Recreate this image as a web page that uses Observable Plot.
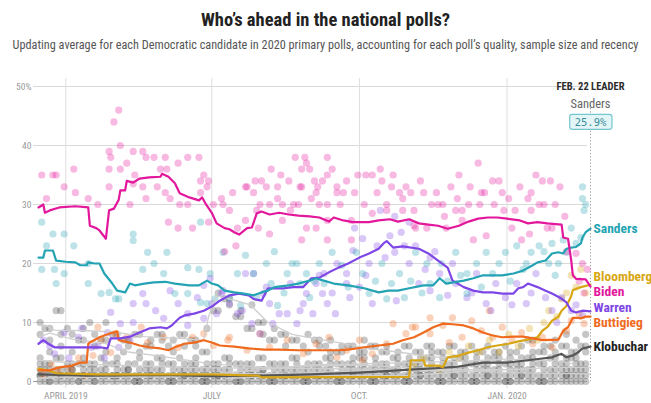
<!DOCTYPE html>
<html><head><meta charset="utf-8">
<script src="https://cdn.jsdelivr.net/npm/d3@7"></script>
<script src="https://cdn.jsdelivr.net/npm/@observablehq/plot@0.6"></script>
<style>
body{margin:0;background:#fff;width:651px;height:403px;overflow:hidden;position:relative;}
#title{position:absolute;top:9px;left:0;width:651px;text-align:center;font-weight:bold;font-size:18.5px;color:#222;white-space:nowrap;}
#sub{position:absolute;top:38px;left:0;width:651px;text-align:center;font-size:13px;color:#555;white-space:nowrap;}
#chart{position:absolute;top:60px;left:0;}
#chart g[aria-label="y-axis tick label"] text,#chart g[aria-label="x-axis tick label"] text{fill:#9a9a9a;}
</style></head><body>
<div id="title">Who’s ahead in the national polls?</div>
<div id="sub">Updating average for each Democratic candidate in 2020 primary polls, accounting for each poll’s quality, sample size and recency</div>
<div id="chart"></div>
<script>
// ---------- data ----------
const candidates = ["Klobuchar","Bloomberg","Buttigieg","Warren","Sanders","Biden"];
const candidateColors = ["#555555","#d8a614","#ef6a1d","#7f46e6","#23a3b3","#e3179c"];
const labelColors = ["#222222","#d8a614","#ef6a1d","#7f46e6","#23a3b3","#e3179c"];

const yTicks = [0,10,20,30,40,50];
const xTickDates = ["2019-04-01","2019-07-01","2019-10-01","2020-01-01"];
const xTickLabels = ["APRIL 2019","JULY","OCT.","JAN. 2020"];
const startDate = "2019-03-15";
const endDate = "2020-02-22";
const leaderTitle = "FEB. 22 LEADER";
const pollOrigin = "2019-04-01"; // poll dots: [days since origin, value]

const bidenAvg = [["2019-03-15",29.5],["2019-03-18",30],["2019-03-19",28.6],["2019-03-22",29],["2019-03-28",29.5],["2019-04-07",29.7],["2019-04-15",29.5],["2019-04-16",26.4],["2019-04-20",26],["2019-04-22",25.6],["2019-04-26",24.2],["2019-04-28",29],["2019-05-01",29.3],["2019-05-04",30.8],["2019-05-05",32.4],["2019-05-08",32.4],["2019-05-09",34],["2019-05-13",33.7],["2019-05-17",34.4],["2019-05-23",34.6],["2019-05-30",34.7],["2019-05-31",35.2],["2019-06-04",34.7],["2019-06-08",33.6],["2019-06-11",31.9],["2019-06-17",31.2],["2019-06-23",30.7],["2019-06-25",31.2],["2019-06-27",30.2],["2019-07-01",28.6],["2019-07-04",26.8],["2019-07-09",26],["2019-07-12",25.8],["2019-07-15",25.3],["2019-07-18",24.9],["2019-07-23",26],["2019-07-26",26.1],["2019-07-29",28.5],["2019-08-01",28.8],["2019-08-06",28.3],["2019-08-12",28.6],["2019-08-18",28.3],["2019-08-24",28.1],["2019-08-31",28],["2019-09-06",27.8],["2019-09-12",27.1],["2019-09-15",27.8],["2019-09-21",27.3],["2019-09-27",27],["2019-10-07",27],["2019-10-13",27.3],["2019-10-20",27.5],["2019-10-25",27.1],["2019-11-01",27.5],["2019-11-07",26.8],["2019-11-13",26.6],["2019-11-19",26.4],["2019-11-25",25.9],["2019-12-02",26.4],["2019-12-08",27.1],["2019-12-14",27.6],["2019-12-20",27.8],["2019-12-26",27.8],["2020-01-01",27.6],["2020-01-09",27.3],["2020-01-14",26.8],["2020-01-20",27],["2020-01-26",26.8],["2020-02-04",26.6],["2020-02-05",24.4],["2020-02-08",24.2],["2020-02-10",20.5],["2020-02-11",18],["2020-02-13",17.4],["2020-02-19",17.3],["2020-02-22",16.1]];
const sandersAvg = [["2019-03-15",21],["2019-03-18",21],["2019-03-19",22.2],["2019-03-24",22.2],["2019-03-26",20.5],["2019-04-01",20.3],["2019-04-07",20.2],["2019-04-10",19.7],["2019-04-14",19.7],["2019-04-15",20.2],["2019-04-19",20],["2019-04-22",20],["2019-04-25",18.3],["2019-04-30",16.6],["2019-05-03",15.4],["2019-05-08",15.1],["2019-05-11",16.6],["2019-05-14",16.3],["2019-05-20",16.6],["2019-05-26",16.8],["2019-06-02",16.9],["2019-06-08",16.6],["2019-06-17",16.3],["2019-06-23",16.3],["2019-06-28",17.1],["2019-07-01",16.6],["2019-07-05",16.3],["2019-07-09",15.4],["2019-07-15",15.1],["2019-07-21",14.9],["2019-07-27",14.6],["2019-08-01",15.1],["2019-08-05",15.4],["2019-08-09",16],["2019-08-18",16.3],["2019-08-24",16.6],["2019-08-31",17.1],["2019-09-04",17.5],["2019-09-06",17.3],["2019-09-15",16.6],["2019-09-24",16.3],["2019-10-04",15.8],["2019-10-13",15.1],["2019-10-19",15.4],["2019-10-25",15.4],["2019-11-01",15.8],["2019-11-10",16.3],["2019-11-16",16.3],["2019-11-20",17.5],["2019-11-24",16.6],["2019-12-05",17.1],["2019-12-11",17.5],["2019-12-17",18],["2019-12-23",18],["2019-12-29",18],["2020-01-05",18.3],["2020-01-11",18.8],["2020-01-17",19.7],["2020-01-20",20.2],["2020-01-25",20.5],["2020-01-29",21.7],["2020-02-02",21.9],["2020-02-05",21.7],["2020-02-07",22.5],["2020-02-10",22.7],["2020-02-13",22.8],["2020-02-16",23.4],["2020-02-17",24.4],["2020-02-19",25.3],["2020-02-22",25.9]];
const warrenAvg = [["2019-03-15",6.4],["2019-03-18",7],["2019-03-21",6.4],["2019-03-25",5.8],["2019-04-10",5.8],["2019-04-22",5.8],["2019-04-27",5.6],["2019-04-29",7.3],["2019-05-05",7.3],["2019-05-11",7.6],["2019-05-17",8.3],["2019-05-23",9],["2019-05-30",9.2],["2019-06-03",9],["2019-06-06",9.5],["2019-06-11",10.8],["2019-06-14",11.2],["2019-06-20",11.5],["2019-06-26",12],["2019-07-01",12.7],["2019-07-06",13.7],["2019-07-12",14.6],["2019-07-18",14.9],["2019-07-24",14.6],["2019-07-27",14],["2019-08-01",13.7],["2019-08-05",15.8],["2019-08-09",15.8],["2019-08-15",15.8],["2019-08-21",16],["2019-08-27",16],["2019-09-01",17.5],["2019-09-06",17.6],["2019-09-12",18.5],["2019-09-18",19.3],["2019-09-24",20],["2019-10-01",21],["2019-10-07",21.7],["2019-10-13",22.5],["2019-10-16",23.4],["2019-10-18",23.8],["2019-10-22",22.7],["2019-10-28",22.9],["2019-11-07",22.5],["2019-11-13",21.7],["2019-11-19",20.5],["2019-11-25",19.3],["2019-11-28",17.1],["2019-12-05",16],["2019-12-11",15.4],["2019-12-17",15.1],["2019-12-23",15.1],["2019-12-29",14.9],["2020-01-05",14.9],["2020-01-08",15.8],["2020-01-11",16],["2020-01-14",16.6],["2020-01-20",16],["2020-01-25",15.4],["2020-01-29",14.9],["2020-02-03",14.2],["2020-02-07",13.4],["2020-02-10",12],["2020-02-13",11.7],["2020-02-17",12],["2020-02-22",11.9]];
const buttigiegAvg = [["2019-03-15",1.9],["2019-03-22",1.9],["2019-03-28",2.4],["2019-04-05",2.7],["2019-04-10",3.2],["2019-04-14",3.2],["2019-04-15",6.4],["2019-04-16",6.6],["2019-04-22",7.5],["2019-04-28",8.1],["2019-05-03",8.5],["2019-05-04",7],["2019-05-11",6.6],["2019-05-17",6.1],["2019-05-23",5.8],["2019-05-30",5.6],["2019-06-04",5.3],["2019-06-08",5.8],["2019-06-14",6.4],["2019-06-20",6.6],["2019-06-26",7],["2019-07-01",6.6],["2019-07-06",6.1],["2019-07-15",5.9],["2019-07-24",5.6],["2019-08-03",5.4],["2019-08-12",5.4],["2019-08-24",5.3],["2019-09-06",5.3],["2019-09-18",5.3],["2019-09-24",5.4],["2019-10-04",5.8],["2019-10-13",6.1],["2019-10-22",6.4],["2019-10-28",7],["2019-11-04",7.5],["2019-11-10",8.3],["2019-11-16",9.2],["2019-11-22",9.8],["2019-11-28",9.7],["2019-12-05",9.5],["2019-12-11",9],["2019-12-17",8.3],["2019-12-23",7.8],["2019-12-29",7.5],["2020-01-05",7.6],["2020-01-11",7.6],["2020-01-17",7.3],["2020-01-23",7],["2020-02-02",7.1],["2020-02-05",8.6],["2020-02-08",9.2],["2020-02-11",10.8],["2020-02-14",10.8],["2020-02-16",10.7],["2020-02-19",11],["2020-02-22",11]];
const bloombergAvg = [["2019-03-15",2.2],["2019-03-22",1.8],["2019-03-26",1.4],["2019-04-20",1.2],["2019-07-01",1.2],["2019-07-30",1.0],["2019-08-01",0.7],["2019-11-01",0.8],["2019-11-02",3.6],["2019-11-10",3.6],["2019-11-11",2.7],["2019-11-19",2.7],["2019-11-22",2.4],["2019-11-25",4.1],["2019-12-02",4.4],["2019-12-08",4.9],["2019-12-14",5.3],["2019-12-20",5.8],["2019-12-26",6.1],["2020-01-02",6.4],["2020-01-08",6.8],["2020-01-14",7.1],["2020-01-20",7.5],["2020-01-23",8.6],["2020-01-26",9.2],["2020-01-29",10.3],["2020-02-02",11],["2020-02-04",12],["2020-02-07",12.8],["2020-02-10",14.5],["2020-02-11",15.5],["2020-02-16",16],["2020-02-22",16.4]];
const klobucharAvg = [["2019-03-15",1.2],["2019-04-15",1.0],["2019-06-01",1.1],["2019-07-01",0.9],["2019-08-01",1.0],["2019-09-01",1.2],["2019-10-01",1.5],["2019-10-20",1.8],["2019-11-01",2.0],["2019-11-15",2.2],["2019-12-01",2.5],["2019-12-17",3.2],["2020-01-01",3.2],["2020-01-14",3.6],["2020-01-23",3.9],["2020-01-29",4.1],["2020-02-04",4.7],["2020-02-07",4.1],["2020-02-11",4.4],["2020-02-14",4.9],["2020-02-17",5.6],["2020-02-22",5.9]];

const harrisAvg = [["2019-03-15",9.5],["2019-03-20",9.4],["2019-03-25",8.7],["2019-04-15",8.6],["2019-05-01",8.4],["2019-05-20",7.6],["2019-06-10",7.3],["2019-06-26",7.0],["2019-06-29",11],["2019-07-04",14.5],["2019-07-15",13.8],["2019-07-25",13],["2019-08-05",10],["2019-08-20",8],["2019-09-05",7.2],["2019-09-20",6.5],["2019-10-05",5.6],["2019-10-25",5],["2019-11-15",4.2],["2019-12-03",3.8]];
const orourkeAvg = [["2019-03-15",7.5],["2019-03-22",8.2],["2019-04-05",7.2],["2019-04-25",6.5],["2019-05-10",5],["2019-06-01",4.2],["2019-07-01",3],["2019-08-01",2.4],["2019-09-01",2.6],["2019-10-01",2.8],["2019-11-01",2.3]];
const bookerAvg = [["2019-03-15",3.6],["2019-04-15",2.9],["2019-06-01",2.5],["2019-07-01",2.3],["2019-09-01",2.2],["2019-11-01",2],["2020-01-13",2]];
const yangAvg = [["2019-03-15",0.5],["2019-04-15",1],["2019-06-01",1],["2019-07-01",1.3],["2019-08-01",2],["2019-09-01",2.8],["2019-10-01",3],["2019-11-01",3.2],["2019-12-01",3.4],["2020-01-01",3.8],["2020-02-01",3.5],["2020-02-11",3]];
const steyerAvg = [["2019-07-10",0.5],["2019-08-01",0.8],["2019-09-01",1],["2019-11-01",1],["2019-12-01",1.6],["2020-01-01",2],["2020-02-01",2.4],["2020-02-22",2.4]];
const gabbardAvg = [["2019-03-15",0.6],["2019-06-01",0.8],["2019-07-01",1.2],["2019-09-01",1.5],["2019-10-20",2],["2019-12-01",1.8],["2020-01-01",1.5],["2020-02-22",1.3]];

const bidenPolls = [[-15,35],[-12,31],[-8,35],[-6,35],[-1,33],[5,36],[6,32],[14,31],[20,30],[27,33],[27,36],[27,39],[28,38],[30,44],[33,46],[34,40],[34,36],[38,37],[40,30],[42,39],[42,33.5],[43,35],[48,39],[48,33],[50,38],[50,31],[55,38],[57,33],[59,36],[62,38],[62,32],[63,36],[65,31],[64,27],[70,37],[70,26],[71,30],[76,38],[76,30],[79,26],[83,38],[84,34],[84,32],[86,35],[88,33],[89,34],[89,27],[92,30],[97,31],[98,30],[102,29],[107,26],[113,33],[117,32],[118,34],[122,34],[119,29],[125,33],[127,30],[132,31],[135,30],[140,29],[142,30],[146,33],[147,36],[149,38],[150,37],[152,36],[155,34],[156,32],[157,33],[158,30],[163,38],[163,35],[112,33],[132,33],[147,33],[169,33],[175,34],[182,35],[187,35],[191,35],[197,34],[203,33],[212,33],[215,32],[104,32],[121,30],[145,30],[153,31],[163,30],[169,32],[173,32],[180,32],[194,32],[200,30],[208,32],[112,27.3],[120,26],[127,25],[135,27.3],[150,26],[156,26],[163,27.3],[178,27.3],[191,28.5],[200,29],[210,29],[217,26.4],[99,22],[106,23],[147,24],[163,24],[178,24],[257,37],[266,34],[297,34],[302,34],[223,32],[231,32],[261,32],[272,32],[290,32],[232,30],[235,30],[243,29],[251,30],[258,30],[267,30],[295,30],[298,30],[305,30],[217,29],[247,29],[273,29],[280,29],[290,29],[247,27.3],[218,26],[225,26],[237,26],[278,26],[300,26],[303,26],[254,24],[262,24.7],[284,24],[289,25],[312,22],[318,21.7],[322,20],[320,17],[323,15],[325,19],[128,36],[134,35],[139,34],[143,38],[160,34],[166,36],[171,30],[186,30],[196,36],[204,35],[210,31],[221,34],[228,30],[240,33],[245,35],[252,33],[259,32],[270,34],[276,31],[283,33],[288,31],[293,35],[308,33],[311,28],[236,28],[244,31]];
const sandersPolls = [[-15,19],[-12,23],[-7,19],[-6,16.6],[-1,18.3],[5,23],[14,20],[14,16.6],[22,14.9],[27,15.1],[31,14],[33,14],[42,23.9],[48,19],[51,21.9],[55,20],[61,18.3],[63,21.9],[68,14.9],[76,19.3],[76,14.9],[83,19],[84,13.4],[88,13.2],[90,18.3],[93,14],[98,21.9],[102,14.2],[107,18.3],[109,12.9],[112,21.4],[117,18.3],[119,14.2],[125,20],[128,16.6],[132,12.9],[138,18.3],[141,20],[146,16.6],[150,18.3],[152,14.2],[158,20],[161,16.6],[-15,27],[-8,25],[-1,25],[42,25],[84,27],[166,21.9],[172,19.7],[181,21.9],[185,18.3],[197,20],[203,16.6],[208,18.3],[218,21.9],[225,20],[227,16.6],[234,20],[243,21.9],[250,18.3],[256,20],[262,21.9],[266,18.3],[270,20],[274,21.9],[281,23],[287,20],[290,21.9],[295,23],[301,20],[303,23.4],[307,20],[312,21.9],[318,23.4],[321,24.4],[322,33],[322,31],[323,29],[324,30],[250,14.9],[233,14.2],[211,14.2],[189,14.9],[130,22],[136,15],[144,20],[155,17],[176,16],[193,17],[200,14],[215,17],[222,15],[238,17],[246,18],[259,16],[277,17],[285,19],[298,22],[305,18],[315,26],[310,24]];
const warrenPolls = [[112,18.3],[117,18.3],[123,14.9],[127,13.2],[133,11.5],[138,11.5],[148,13.2],[150,14.9],[154,11.5],[160,14.9],[163,13.2],[168,11.5],[121,8.1],[116,9.8],[107,11.5],[102,13.2],[97,14.9],[140,16.6],[156,16.6],[175,18.3],[144,9.8],[129,9.8],[-14,7],[-10,6],[-7,4.7],[-1,8.3],[2,4],[8,7.5],[10,9],[16,5.8],[20,6],[24,4],[28,11.7],[34,9.8],[42,13.2],[42,10],[50,13.2],[48,14.9],[56,12],[61,10.7],[65,15.4],[70,13.2],[76,11.5],[82,14.2],[86,16.3],[90,17.5],[91,13.2],[94,11.5],[98,15.4],[86,10.7],[76,9.5],[40,7],[26,8.3],[33,5.8],[161,18.3],[169,20],[175,16.6],[179,22.2],[185,24.2],[189,20],[194,23],[202,24.7],[205,21.9],[209,25.3],[214,20],[218,23],[220,16.6],[227,21],[233,18.3],[238,14.6],[243,16.6],[250,14.2],[256,18.3],[262,13.2],[268,16.6],[274,14.2],[281,16.6],[287,13.2],[293,18.3],[299,14.2],[303,12],[309,14.2],[315,12],[322,11.2],[177,14.2],[191,13.2],[206,13.7],[183,16],[227,15.4],[196,29],[205,28],[214,27],[180,26],[187,18],[199,21],[211,23],[224,19],[230,22],[241,20],[253,15],[265,12],[278,13],[290,15],[306,10],[318,13],[110,12],[125,16],[146,12],[158,18],[166,15]];
const buttigiegPolls = [[-14,1],[-9,3],[-5,2],[3,2.2],[8,4],[12,1],[17,4.4],[20,9.2],[22,7],[28,4.9],[31,8.1],[38,7.5],[47,9.2],[51,6.6],[61,7.5],[70,5.8],[79,7.5],[86,8.1],[92,6.1],[101,7],[102,7.5],[113,5.3],[121,8.1],[127,5.8],[138,7],[148,4.7],[156,6.4],[164,7.5],[175,5.3],[183,7],[191,4.7],[200,6.4],[204,9.8],[212,8.1],[216,9.2],[169,4.1],[185,3.6],[218,9.2],[227,8.1],[235,9.5],[241,10.8],[247,7.5],[253,10.3],[259,8.6],[266,7.5],[272,9.2],[278,7],[284,8.3],[291,6.4],[297,7.5],[303,5.8],[312,8.6],[315,10.3],[320,11.5],[323,9.8],[239,6.6],[227,10.8],[264,12]];
const bloombergPolls = [[217,3],[223,4],[233,2],[239,5],[245,4],[251,6],[258,5],[264,7],[270,5],[276,8],[282,6],[289,9],[294,7],[298,10],[301,12],[306,11],[309,14],[312,15],[315,18],[318,16],[321,19],[324,15]];
const otherPolls = [[-16,[0,1,1,2,3,4,8,10]],[-13,[0,1,2,3,9]],[-10,[0,0,1,2,3,5,7,9]],[-6,[0,1,2,4,12]],[-3,[0,1,1,2,4,6,8,12]],[1,[0,1,2,3,9]],[4,[0,1,2,2,3,5,8]],[8,[0,0,1,3,7]],[11,[0,1,1,2,3,4,7,9]],[15,[0,1,2,3,10]],[18,[0,0,1,2,3,6,8]],[22,[0,1,2,4,7]],[25,[0,1,2,3,5,7,10]],[29,[0,1,1,3,8]],[32,[0,1,1,2,3,4,8]],[36,[0,1,2,5,7]],[39,[0,1,2,2,3,6,7]],[43,[0,0,1,3,8]],[46,[0,0,1,2,4,5,8]],[50,[0,1,2,3,6]],[53,[0,1,1,2,3,6,7]],[57,[0,1,2,4,8]],[60,[0,1,2,3,4,7,8]],[64,[0,0,1,3,6]],[67,[0,0,1,2,3,5,7]],[71,[0,1,2,4,8]],[74,[0,1,1,2,3,6,8]],[78,[0,1,2,3,7]],[81,[0,1,2,3,4,6,7]],[85,[0,0,1,2,5]],[88,[0,0,1,2,3,5,9]],[92,[0,1,2,3,12]],[95,[0,1,1,2,3,12,15]],[99,[0,1,2,4,14]],[102,[0,1,2,3,4,13,14]],[106,[0,0,1,3,11]],[109,[0,0,1,2,3,11,12]],[113,[0,1,2,3,9]],[116,[0,1,1,2,3,9,13]],[120,[0,1,2,4,10]],[123,[0,1,2,2,4,8,10]],[127,[0,0,1,3,7]],[130,[0,0,1,2,3,7,9]],[134,[0,1,2,3,8]],[137,[0,1,1,2,3,6,8]],[141,[0,1,2,4,7]],[144,[0,1,2,3,4,7]],[148,[0,0,1,2,6]],[151,[0,0,1,2,3,5,8]],[155,[0,1,2,3,7]],[158,[0,1,1,2,3,6,7]],[162,[0,1,2,4,6]],[165,[0,1,2,3,4,5,7]],[169,[0,0,1,3,5]],[172,[0,0,1,2,3,5,6]],[176,[0,1,2,3,6]],[179,[0,1,1,2,3,4,6]],[183,[0,1,2,4,5]],[186,[0,1,2,3,4,5,7]],[190,[0,0,1,2,6]],[193,[0,0,1,2,3,4,6]],[197,[0,1,2,3,5]],[200,[0,1,1,2,3,5,6]],[204,[0,1,2,4]],[207,[0,1,2,3,4,5]],[211,[0,0,1,3,6]],[214,[0,0,1,2,3,4,6]],[218,[0,1,2,3,5]],[221,[0,1,1,2,3,4,5]],[225,[0,1,2,4,6]],[228,[0,1,2,3,4,5,6]],[232,[0,0,1,2,5]],[235,[0,0,1,2,3,4,5]],[239,[0,1,2,3,6]],[242,[0,1,1,2,3,4,6]],[246,[0,1,2,4,5]],[249,[0,1,2,3,4,5]],[253,[0,0,1,3,6]],[256,[0,0,1,2,3,4,5]],[260,[0,1,2,3,5]],[263,[0,1,1,2,3,4,6]],[267,[0,1,2,4,5]],[270,[0,1,2,3,4,5]],[274,[0,0,1,3,6]],[277,[0,0,1,2,3,4,5]],[281,[0,1,2,3,5]],[284,[0,1,1,2,3,4,6]],[288,[0,1,2,4,7]],[291,[0,1,2,3,4,5,7]],[295,[0,0,1,3,5]],[298,[0,0,1,2,3,5,6]],[302,[0,1,2,4,6]],[305,[0,1,2,3,4,5,7]],[309,[0,1,2,3,6]],[312,[0,1,1,2,3,4,6,8]],[315,[0,1,2,4,5]],[318,[0,1,2,3,4,5,7]],[321,[0,1,2,3,6]],[324,[0,1,2,3,5,6,8]]];

// ---------- pick a condensed font that is installed ----------
function measure(family, stretch) {
  const s = document.createElement("span");
  s.style.cssText = "position:absolute;visibility:hidden;white-space:nowrap;font-size:40px;";
  s.style.fontFamily = family; s.style.fontStretch = stretch || "normal";
  s.textContent = "Who’s ahead in the national polls 0123456789";
  document.body.appendChild(s); const w = s.getBoundingClientRect().width; s.remove(); return w;
}
function pickFont() {
  const mono = measure("monospace");
  for (const name of ["Roboto Condensed", "Liberation Sans Narrow", "Noto Sans Condensed", "Open Sans Condensed", "DejaVu Sans Condensed"]) {
    if (Math.abs(measure(`"${name}",monospace`) - mono) > 0.5) return {family: `"${name}"`, stretch: "normal"};
  }
  for (const [name, st] of [["Noto Sans", "condensed"], ["Open Sans", "75%"], ["Roboto", "condensed"], ["Inter", "condensed"]]) {
    const n = measure(`"${name}",monospace`), c = measure(`"${name}",monospace`, st);
    if (Math.abs(n - mono) > 0.5 && c < n - 2) return {family: `"${name}"`, stretch: st};
  }
  return {family: "Roboto", stretch: "normal"};
}
const F = pickFont();
const fontFamily = F.family + ",sans-serif";
document.body.style.fontFamily = fontFamily;
document.body.style.fontStretch = F.stretch;

// fit the subtitle to the reference width
(function () {
  const el = document.getElementById("sub");
  const r = document.createRange(); r.selectNodeContents(el);
  const w = r.getBoundingClientRect().width;
  if (w > 0) el.style.fontSize = Math.min(15, 13 * 626 / w).toFixed(2) + "px";
})();

// ---------- build tables ----------
const parse = d3.utcParse("%Y-%m-%d");
const origin = parse(pollOrigin);
const fromDay = n => d3.utcDay.offset(origin, n);
const averages = {Klobuchar: klobucharAvg, Bloomberg: bloombergAvg, Buttigieg: buttigiegAvg, Warren: warrenAvg, Sanders: sandersAvg, Biden: bidenAvg};
const grayAverages = {Harris: harrisAvg, "O'Rourke": orourkeAvg, Booker: bookerAvg, Yang: yangAvg, Steyer: steyerAvg, Gabbard: gabbardAvg};
const polls = {Buttigieg: buttigiegPolls, Bloomberg: bloombergPolls, Warren: warrenPolls, Sanders: sandersPolls, Biden: bidenPolls};
const colorOf = Object.fromEntries(candidates.map((c,i) => [c, candidateColors[i]]));

const lineRows = candidates.flatMap(c => averages[c].map(([d,v]) => ({candidate:c, date:parse(d), value:v, color:colorOf[c]})));
const grayRows = Object.entries(grayAverages).flatMap(([c,arr]) => arr.map(([d,v]) => ({candidate:c, date:parse(d), value:v})));
const pollRows = Object.entries(polls).flatMap(([c,arr]) => arr.map(([n,v]) => ({candidate:c, date:fromDay(n), value:v, color:colorOf[c]})));
const otherRows = otherPolls.flatMap(([n,vals]) => vals.map(v => ({date:fromDay(n), value:v})));

const W = 651, H = 343, mt = 26, mb = 22, ml = 38, mr = 61;
const end = parse(endDate);
const xTicks = xTickDates.map(parse);
const xLabelOf = new Map(xTicks.map((d,i) => [+d, xTickLabels[i]]));

// end labels with a simple dodge
const yS = Plot.scale({y: {domain: [0, 50], range: [H - mb, mt]}});
const finals = candidates.map((c,i) => {
  const arr = averages[c];
  return {candidate: c, value: arr[arr.length-1][1], color: labelColors[i]};
});
const sorted = finals.slice().sort((a,b) => b.value - a.value);
let py = sorted.map(d => yS.apply(d.value));
const gap = 15.3;
for (let it = 0; it < 300; it++) {
  for (let i = 1; i < py.length; i++) {
    const ov = gap - (py[i] - py[i-1]);
    if (ov > 0) { py[i-1] -= ov/2; py[i] += ov/2; }
  }
}
const endLabels = sorted.map((d,i) => ({...d, date: end, labelY: yS.invert(py[i])}));
const leader = sorted[0];
const leaderValue = leader.value.toFixed(1) + "%";

const chart = Plot.plot({
  width: W, height: H,
  marginTop: mt, marginBottom: mb, marginLeft: ml, marginRight: mr,
  style: {fontFamily, fontStretch: F.stretch, background: "transparent", overflow: "visible"},
  x: {type: "utc", domain: [parse(startDate), end]},
  y: {domain: [0, 50]},
  color: {type: "identity"},
  marks: [
    Plot.ruleY(yTicks.filter(d => d > 0), {stroke: "#d9d9d9", insetLeft: -5, insetRight: 3}),
    Plot.ruleX(xTicks, {stroke: "#dedede", insetTop: -8, insetBottom: -7}),
    Plot.ruleX([end], {stroke: "#9a9a9a", strokeDasharray: "1.2,2", insetTop: 19}),
    Plot.dot(otherRows, {x: "date", y: "value", r: 3.6, fill: "#111", fillOpacity: 0.24}),
    Plot.dot(pollRows, {x: "date", y: "value", r: 3.6, fill: "color", fillOpacity: 0.3}),
    Plot.ruleY([0], {stroke: "#9d9d9d", insetLeft: -5, insetRight: 3}),
    Plot.line(grayRows, {x: "date", y: "value", z: "candidate", stroke: "#cfcfcf", strokeWidth: 1.3}),
    Plot.line(lineRows, {x: "date", y: "value", z: "candidate", stroke: "color", strokeWidth: 2.2}),
    Plot.axisY({ticks: yTicks, tickSize: 0, tickPadding: 7, fontSize: 9.5, label: null,
      tickFormat: d => d === 50 ? "50%" : String(d)}),
    Plot.axisX({ticks: xTicks, tickSize: 0, tickPadding: 11, fontSize: 9.5, label: null,
      tickFormat: d => xLabelOf.get(+d)}),
    Plot.text([leaderTitle], {x: () => end, text: d => d, frameAnchor: "top", lineAnchor: "middle", fontWeight: "bold", fontSize: 10.5, fill: "#2b2b2b"}),
    Plot.text([leader.candidate], {x: () => end, text: d => d, frameAnchor: "top", lineAnchor: "middle", dy: 17, fontSize: 12.5, fill: "#666"}),
    Plot.text([leaderValue], {x: () => end, text: d => d, frameAnchor: "top", lineAnchor: "middle", dy: 36, fontSize: 10.5, fontFamily: "DejaVu Sans Mono, monospace", fill: "#3a8e9a"}),
    Plot.text(endLabels, {x: "date", y: "labelY", text: "candidate", fill: "color", dx: 3, textAnchor: "start", fontWeight: "bold", fontSize: 13.5})
  ]
});
document.getElementById("chart").appendChild(chart);

// rounded box behind the leader's value
const vt = Array.from(chart.querySelectorAll("text")).find(t => t.textContent === leaderValue);
if (vt) {
  const bb = vt.getBBox();
  const rect = document.createElementNS("http://www.w3.org/2000/svg", "rect");
  rect.setAttribute("x", bb.x - 5); rect.setAttribute("y", bb.y - 1.5);
  rect.setAttribute("width", bb.width + 10); rect.setAttribute("height", bb.height + 3);
  rect.setAttribute("rx", 2.5); rect.setAttribute("fill", "#e3f5f7"); rect.setAttribute("stroke", "#74c6d0"); rect.setAttribute("stroke-width", 1.2);
  if (vt.getAttribute("transform")) rect.setAttribute("transform", vt.getAttribute("transform"));
  vt.parentNode.insertBefore(rect, vt);
}
</script></body></html>
